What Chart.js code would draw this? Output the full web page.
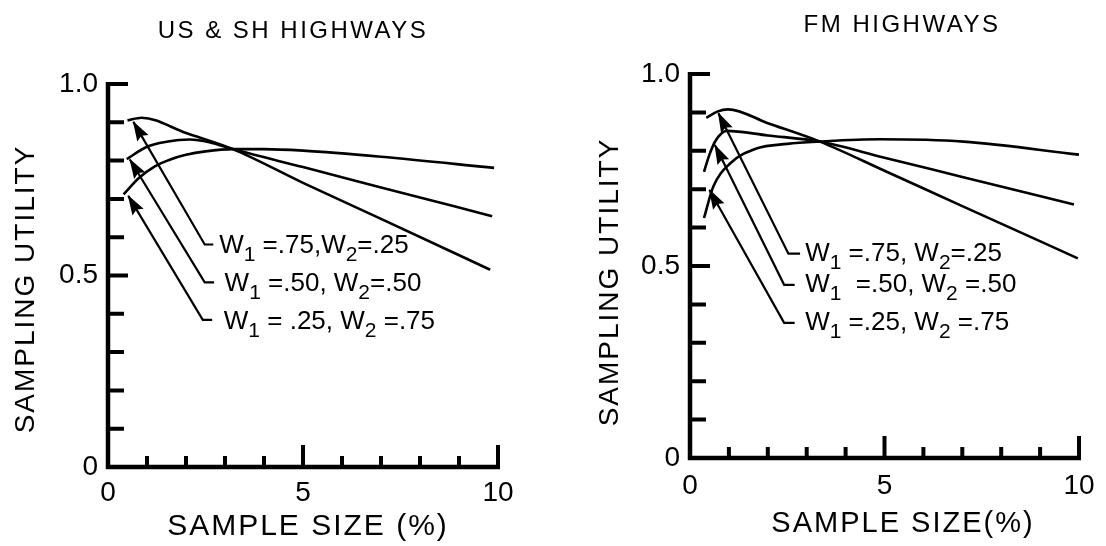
<!DOCTYPE html>
<html>
<head>
<meta charset="utf-8">
<script src="https://cdn.jsdelivr.net/npm/chart.js@4.4.1/dist/chart.umd.min.js"></script>
<style>
  html, body { margin: 0; padding: 0; background: #fff; }
  #wrap { position: relative; width: 1106px; height: 546px; overflow: hidden; background: #fff; }
  .pane { position: absolute; top: 0; width: 553px; height: 546px; }
</style>
</head>
<body>
<div id="wrap">
  <div class="pane" style="left:0"><canvas id="usChart" width="553" height="546"></canvas></div>
  <div class="pane" style="left:553px"><canvas id="fmChart" width="553" height="546"></canvas></div>
</div>
<script>
// ---------------- DATA ----------------
const xTickValues = [0, 5, 10];
const xTickLabels = ['0', '5', '10'];
const yTickValues = [0, 0.5, 1.0];
const yTickLabels = ['0', '0.5', '1.0'];
const xMinorTicks = [1, 2, 3, 4, 5, 6, 7, 8, 9, 10];
const yMinorTicks = [0.1, 0.2, 0.3, 0.4, 0.5, 0.6, 0.7, 0.8, 0.9, 1.0];

const seriesNames = ['W1=.75, W2=.25', 'W1=.50, W2=.50', 'W1=.25, W2=.75'];

// US & SH highways
const usX_w75 = [0.50, 0.86, 2.0, 3.2, 5.0, 7.0, 9.8];
const usY_w75 = [0.905, 0.912, 0.872, 0.830, 0.742, 0.648, 0.515];
const usX_w50 = [0.48, 1.0, 1.5, 2.1, 2.6, 3.2, 5.0, 7.0, 9.85];
const usY_w50 = [0.804, 0.836, 0.849, 0.855, 0.848, 0.830, 0.783, 0.730, 0.655];
const usX_w25 = [0.40, 0.8, 1.2, 1.6, 2.0, 2.5, 3.2, 4.0, 5.0, 7.0, 9.9];
const usY_w25 = [0.712, 0.755, 0.785, 0.803, 0.815, 0.824, 0.830, 0.830, 0.826, 0.810, 0.781];

// FM highways
const fmX_w75 = [0.42, 0.70, 0.98, 2.0, 3.34, 5.0, 7.0, 9.97];
const fmY_w75 = [0.886, 0.902, 0.908, 0.872, 0.824, 0.748, 0.656, 0.520];
const fmX_w50 = [0.36, 0.50, 0.65, 0.94, 2.0, 3.34, 5.0, 7.0, 9.87];
const fmY_w50 = [0.745, 0.790, 0.825, 0.852, 0.840, 0.824, 0.782, 0.732, 0.660];
const fmX_w25 = [0.36, 0.60, 1.03, 1.71, 2.5, 3.34, 4.88, 7.03, 10.0];
const fmY_w25 = [0.625, 0.707, 0.767, 0.806, 0.818, 0.824, 0.830, 0.824, 0.790];

// Annotation labels (odd index = subscript) and leader arrows (data units)
const usLabelParts = [['W', '1', ' =.75,W', '2', '=.25'], ['W', '1', ' =.50, W', '2', '=.50'], ['W', '1', ' = .25, W', '2', ' =.75']];
const usLabelX = [2.85, 2.99, 2.97];
const usLabelY = [0.583, 0.484, 0.384];
const usLeaderX = [[0.65, 2.48, 2.70], [0.56, 2.48, 2.72], [0.52, 2.43, 2.67]];
const usLeaderY = [[0.901, 0.581, 0.581], [0.803, 0.482, 0.482], [0.708, 0.384, 0.384]];

const fmLabelParts = [['W', '1', ' =.75, W', '2', '=.25'], ['W', '1', '  =.50, W', '2', ' =.50'], ['W', '1', ' =.25, W', '2', ' =.75']];
const fmLabelX = [2.96, 2.96, 2.96];
const fmLabelY = [0.537, 0.456, 0.357];
const fmLeaderX = [[0.73, 2.53, 2.83], [0.64, 2.42, 2.69], [0.50, 2.42, 2.69]];
const fmLeaderY = [[0.898, 0.532, 0.532], [0.815, 0.451, 0.451], [0.698, 0.352, 0.352]];

// ---------------- HELPERS ----------------
const FONT = '"Liberation Sans", Arial, sans-serif';
Chart.defaults.font.family = FONT;
Chart.defaults.color = '#000';

const toPts = (xs, ys) => xs.map((v, i) => ({ x: v, y: ys[i] }));

const axisPlugin = {
  id: 'axisDecor',
  beforeDatasetsDraw(chart) {
    const { ctx, scales: { x, y } } = chart;
    const x0 = x.getPixelForValue(0), x1 = x.getPixelForValue(10);
    const y0 = y.getPixelForValue(0), y1 = y.getPixelForValue(1);
    ctx.save();
    ctx.strokeStyle = '#000';
    ctx.lineWidth = 4.5;
    ctx.beginPath();
    ctx.moveTo(x0, y1 - 2);
    ctx.lineTo(x0, y0);
    ctx.lineTo(x1 + 2, y0);
    ctx.stroke();
    ctx.lineWidth = 4;
    ctx.beginPath();
    yMinorTicks.forEach(v => {
      const py = y.getPixelForValue(v);
      const len = (v === 1 || v === 0.5) ? 20 : 16;
      ctx.moveTo(x0, py); ctx.lineTo(x0 + len, py);
    });
    xMinorTicks.forEach(v => {
      const px = x.getPixelForValue(v);
      const len = (v % 5 === 0) ? 22 : 11;
      ctx.moveTo(px, y0); ctx.lineTo(px, y0 - len);
    });
    ctx.stroke();
    ctx.restore();
  }
};

const arrowPlugin = {
  id: 'arrowHeads',
  afterDatasetsDraw(chart) {
    const ctx = chart.ctx;
    chart.data.datasets.forEach((ds, i) => {
      if (!ds.arrow) return;
      const pts = chart.getDatasetMeta(i).data;
      const tip = pts[0], from = pts[1];
      const ang = Math.atan2(tip.y - from.y, tip.x - from.x);
      ctx.save();
      ctx.fillStyle = '#000';
      ctx.translate(tip.x, tip.y);
      ctx.rotate(ang);
      ctx.beginPath();
      ctx.moveTo(1, 0);
      ctx.lineTo(-19, -6.5);
      ctx.lineTo(-16, 0);
      ctx.lineTo(-19, 6.5);
      ctx.closePath();
      ctx.fill();
      ctx.restore();
    });
  }
};

const textPlugin = {
  id: 'textDecor',
  afterDraw(chart, args, o) {
    const { ctx, scales: { x, y } } = chart;
    ctx.save();
    ctx.fillStyle = '#000';
    // chart title
    ctx.textAlign = 'center';
    ctx.textBaseline = 'middle';
    ctx.letterSpacing = o.title.spacing + 'px';
    ctx.font = o.title.size + 'px ' + FONT;
    ctx.fillText(o.title.text, o.title.x, o.title.y);
    // x title
    ctx.letterSpacing = o.xTitle.spacing + 'px';
    ctx.font = o.xTitle.size + 'px ' + FONT;
    ctx.fillText(o.xTitle.text, o.xTitle.x, o.xTitle.y);
    // y title
    ctx.save();
    ctx.translate(o.yTitle.x, o.yTitle.y);
    ctx.rotate(-Math.PI / 2);
    ctx.letterSpacing = o.yTitle.spacing + 'px';
    ctx.font = o.yTitle.size + 'px ' + FONT;
    ctx.fillText(o.yTitle.text, 0, 0);
    ctx.restore();
    // annotation labels
    ctx.letterSpacing = '0px';
    ctx.textAlign = 'left';
    ctx.textBaseline = 'alphabetic';
    o.parts.forEach((parts, i) => {
      let px = x.getPixelForValue(o.lx[i]);
      const base = y.getPixelForValue(o.ly[i]) + 9.5;
      parts.forEach((seg, k) => {
        const sub = k % 2 === 1;
        ctx.font = (sub ? 21 : 26) + 'px ' + FONT;
        ctx.fillText(seg, px, sub ? base + 8 : base);
        px += ctx.measureText(seg).width;
      });
    });
    ctx.restore();
  }
};

function makeChart(id, cfg) {
  const curve = (xs, ys, name) => ({
    label: name, data: toPts(xs, ys), borderColor: '#000', borderWidth: 2.6,
    pointRadius: 0, fill: false, cubicInterpolationMode: 'monotone'
  });
  const datasets = [
    curve(cfg.cx[0], cfg.cy[0], seriesNames[0]),
    curve(cfg.cx[1], cfg.cy[1], seriesNames[1]),
    curve(cfg.cx[2], cfg.cy[2], seriesNames[2])
  ];
  cfg.leadX.forEach((lx, i) => {
    datasets.push({
      label: 'leader ' + (i + 1), data: toPts(lx, cfg.leadY[i]), borderColor: '#000',
      borderWidth: 2.2, pointRadius: 0, tension: 0, fill: false, arrow: true
    });
  });
  return new Chart(document.getElementById(id), {
    type: 'line',
    data: { datasets },
    options: {
      responsive: false,
      animation: false,
      devicePixelRatio: 1,
      layout: { padding: { top: cfg.area.top, right: 553 - cfg.area.right, left: 0, bottom: 0 } },
      plugins: {
        legend: { display: false },
        tooltip: { enabled: false },
        textDecor: {
          title: cfg.title, xTitle: cfg.xTitle, yTitle: cfg.yTitle,
          parts: cfg.parts, lx: cfg.lx, ly: cfg.ly
        }
      },
      scales: {
        x: {
          type: 'linear', min: 0, max: 10, position: 'bottom',
          grid: { display: false, drawTicks: false },
          border: { display: false },
          afterBuildTicks: s => { s.ticks = xTickValues.map(v => ({ value: v })); },
          afterFit: s => { s.height = 546 - cfg.area.bottom; },
          ticks: {
            autoSkip: false, maxRotation: 0, padding: cfg.xPad,
            font: { size: 28, family: FONT }, color: '#000',
            callback: (v, i) => xTickLabels[i]
          }
        },
        y: {
          type: 'linear', min: 0, max: 1, position: 'left',
          grid: { display: false, drawTicks: false },
          border: { display: false },
          afterBuildTicks: s => { s.ticks = yTickValues.map(v => ({ value: v })); },
          afterFit: s => { s.width = cfg.area.left; },
          ticks: {
            autoSkip: false, padding: 10,
            font: { size: 28, family: FONT }, color: '#000',
            callback: (v, i) => yTickLabels[i]
          }
        }
      }
    },
    plugins: [axisPlugin, arrowPlugin, textPlugin]
  });
}

makeChart('usChart', {
  area: { left: 108, right: 498, top: 84, bottom: 467 },
  xPad: 9,
  cx: [usX_w75, usX_w50, usX_w25], cy: [usY_w75, usY_w50, usY_w25],
  leadX: usLeaderX, leadY: usLeaderY,
  parts: usLabelParts, lx: usLabelX, ly: usLabelY,
  title: { text: 'US & SH HIGHWAYS', x: 293, y: 31, size: 24, spacing: 2.5 },
  xTitle: { text: 'SAMPLE SIZE (%)', x: 308, y: 527, size: 30, spacing: 2 },
  yTitle: { text: 'SAMPLING UTILITY', x: 26, y: 289, size: 28, spacing: 2 }
});

makeChart('fmChart', {
  area: { left: 137, right: 526, top: 74, bottom: 458 },
  xPad: 11,
  cx: [fmX_w75, fmX_w50, fmX_w25], cy: [fmY_w75, fmY_w50, fmY_w25],
  leadX: fmLeaderX, leadY: fmLeaderY,
  parts: fmLabelParts, lx: fmLabelX, ly: fmLabelY,
  title: { text: 'FM HIGHWAYS', x: 349, y: 25, size: 24, spacing: 2.5 },
  xTitle: { text: 'SAMPLE SIZE(%)', x: 350, y: 524, size: 29, spacing: 2 },
  yTitle: { text: 'SAMPLING UTILITY', x: 57, y: 282, size: 28, spacing: 2 }
});
</script>
</body>
</html>
